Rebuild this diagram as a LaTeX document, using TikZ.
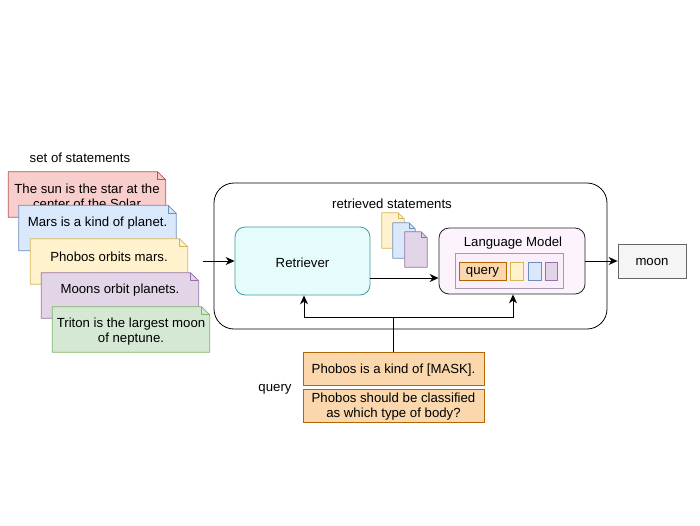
\documentclass[tikz,border=0pt]{standalone}
\usepackage{fontspec}
\setmainfont{Liberation Sans}
\usetikzlibrary{arrows.meta,calc}
\definecolor{redF}{HTML}{F8CECC}\definecolor{redS}{HTML}{B85450}
\definecolor{bluF}{HTML}{DAE8FC}\definecolor{bluS}{HTML}{6C8EBF}
\definecolor{yelF}{HTML}{FFF2CC}\definecolor{yelS}{HTML}{D6B656}
\definecolor{purF}{HTML}{E1D5E7}\definecolor{purS}{HTML}{9673A6}
\definecolor{grnF}{HTML}{D5E8D4}\definecolor{grnS}{HTML}{82B366}
\definecolor{orgF}{HTML}{FAD7AC}\definecolor{orgS}{HTML}{B46504}
\definecolor{gryF}{HTML}{F5F5F5}\definecolor{gryS}{HTML}{666666}
\definecolor{retF}{HTML}{E6FCFC}\definecolor{retS}{HTML}{3D9EA3}
\definecolor{lmF}{HTML}{FDF3FD}\definecolor{lmS}{HTML}{222222}
\definecolor{inF}{HTML}{F9EEF9}\definecolor{inS}{HTML}{A898AD}
\newcommand\notedraw[4]{% node, fill, stroke, fold
  \draw[fill=#2, draw=#3, line width=0.8pt, line join=round]
    (#1.north west) -- ([xshift=-#4]#1.north east) -- ([yshift=-#4]#1.north east)
    -- (#1.south east) -- (#1.south west) -- cycle;
  \draw[draw=#3, line width=0.8pt, line join=round]
    ([xshift=-#4]#1.north east) -- ([xshift=-#4,yshift=-#4]#1.north east) -- ([yshift=-#4]#1.north east);}
\tikzset{
  txt/.style={font=\fontsize{13.2}{15}\selectfont, inner sep=0pt, align=center, text=black, yshift=-1.5pt},
  cardbox/.style={inner sep=0pt, minimum width=157pt, minimum height=45pt},
  docbox/.style={inner sep=0pt, minimum width=22pt, minimum height=35pt},
  conn/.style={line width=1pt, draw=black},
  arr/.style={conn, -{Stealth[length=9pt,width=8pt]}},
  rbox/.style={draw, line width=0.8pt, rounded corners=#1, inner sep=0pt},
}
\begin{document}
\begin{tikzpicture}[x=1pt,y=-1pt]
\useasboundingbox[fill=white] (0,0) rectangle (700,525);

% set of statements
\node[txt] (setlbl) at (80,156) {set of statements};

\node[cardbox] (c1) at (87,194.5) {};
\notedraw{c1}{redF}{redS}{8pt}
\node[txt] (t1) at (87,194.5) {The sun is the star at the\\center of the Solar};

\node[cardbox] (c2) at (97.5,228) {};
\notedraw{c2}{bluF}{bluS}{8pt}
\node[txt] (t2) at (97.5,221.5) {Mars is a kind of planet.};

\node[cardbox] (c3) at (109,261.5) {};
\notedraw{c3}{yelF}{yelS}{8pt}
\node[txt] (t3) at (109,255.5) {Phobos orbits mars.};

\node[cardbox] (c4) at (120,295.5) {};
\notedraw{c4}{purF}{purS}{8pt}
\node[txt] (t4) at (120,288.5) {Moons orbit planets.};

\node[cardbox] (c5) at (131,329.5) {};
\notedraw{c5}{grnF}{grnS}{8pt}
\node[txt] (t5) at (131,330) {Triton is the largest moon\\of neptune.};

% outer box
\node[rbox=20pt, draw=black, minimum width=393pt, minimum height=146pt] (outer) at (410.5,256) {};
\node[txt] (retlbl) at (392,202) {retrieved statements};

% retriever
\node[rbox=10pt, draw=retS, fill=retF, minimum width=135pt, minimum height=68pt] (ret) at (302.5,261) {};
\node[txt] at (ret.center) {Retriever};

% docs
\node[docbox] (d1) at (393,230.5) {};
\notedraw{d1}{yelF}{yelS}{6pt}
\node[docbox] (d2) at (404,240.5) {};
\notedraw{d2}{bluF}{bluS}{6pt}
\node[docbox] (d3) at (416,249.5) {};
\notedraw{d3}{purF}{purS}{6pt}

% language model
\node[rbox=10pt, draw=lmS, fill=lmF, minimum width=146pt, minimum height=66pt] (lm) at (512,261) {};
\node[txt] (lmlbl) at (513,242) {Language Model};
\node[draw=inS, fill=inF, line width=0.8pt, minimum width=108pt, minimum height=35pt, inner sep=0pt] (inner) at (509,270.5) {};
\node[draw=orgS, fill=orgF, line width=0.8pt, minimum width=47pt, minimum height=18pt, inner sep=0pt] (q) at (482.5,271) {};
\node[txt] at (q.center) {query};
\node[draw=yelS, fill=yelF, line width=0.8pt, minimum width=13pt, minimum height=18pt, inner sep=0pt] (s1) at (516.5,271) {};
\node[draw=bluS, fill=bluF, line width=0.8pt, minimum width=13pt, minimum height=18pt, inner sep=0pt] (s2) at (534.5,271) {};
\node[draw=purS, fill=purF, line width=0.8pt, minimum width=12pt, minimum height=18pt, inner sep=0pt] (s3) at (551,271) {};

% moon
\node[draw=gryS, fill=gryF, line width=0.8pt, minimum width=68pt, minimum height=34pt, inner sep=0pt] (moon) at (652,261) {};
\node[txt] at (moon.center) {moon};

% query boxes
\node[draw=orgS, fill=orgF, line width=0.8pt, minimum width=181pt, minimum height=33pt, inner sep=0pt] (qa) at (393.5,368.5) {};
\node[txt] at (qa.center) {Phobos is a kind of [MASK].};
\node[draw=orgS, fill=orgF, line width=0.8pt, minimum width=181pt, minimum height=33pt, inner sep=0pt] (qb) at (393.5,405.5) {};
\node[txt] at (qb.center) {Phobos should be classified\\as which type of body?};
\node[txt] (qlbl) at (275,388) {query};

% connectors
\coordinate (inA) at (203,261);
\draw[arr] (inA) -- (ret.west);
\draw[arr] ([yshift=-17pt]ret.east) -- ([yshift=-17pt]lm.west);
\draw[arr] (lm.east) -- (moon.west);
\coordinate (jn) at (393.5,317);
\draw[conn] (qa.north) -- (jn);
\draw[arr] (jn) -| ([xshift=1.5pt]ret.south);
\draw[arr] (jn) -| ([xshift=1pt]lm.south);
\end{tikzpicture}
\end{document}
